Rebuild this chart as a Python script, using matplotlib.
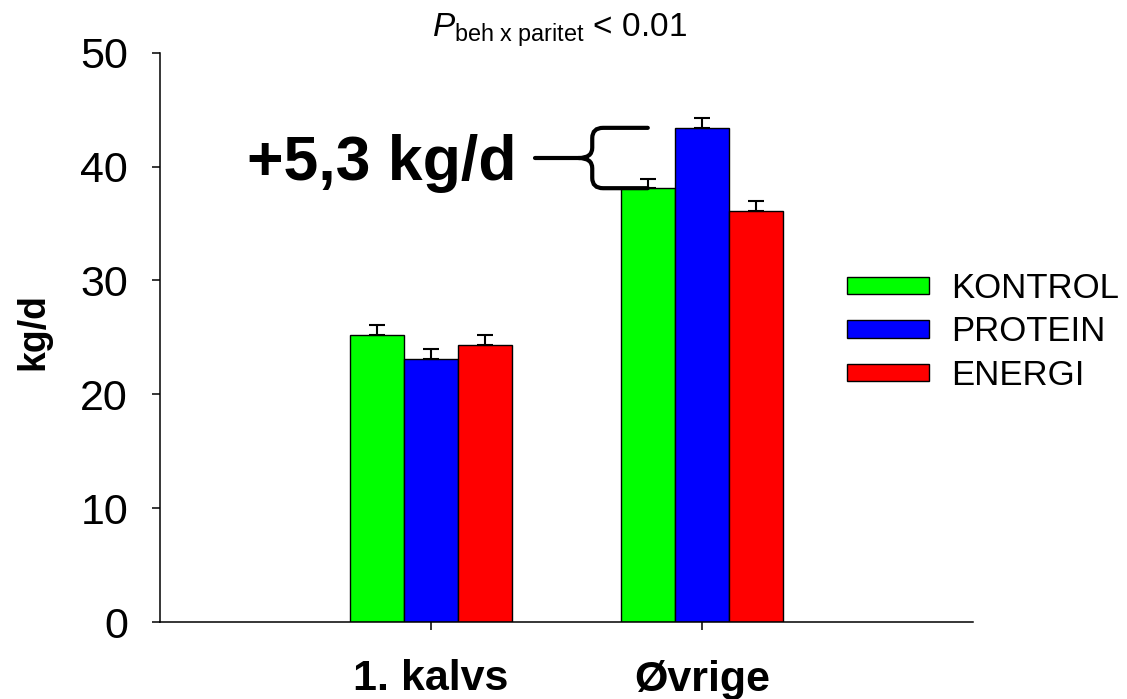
import matplotlib
matplotlib.use("Agg")
import matplotlib.pyplot as plt
import numpy as np
from matplotlib.path import Path
from matplotlib.patches import PathPatch

# --- data -----------------------------------------------------------------
groups = ["1. kalvs", "Øvrige"]
treatments = ["KONTROL", "PROTEIN", "ENERGI"]
kontrol = [25.2, 38.1]
protein = [23.1, 43.4]
energi = [24.3, 36.1]
kontrol_se = [0.9, 0.85]
protein_se = [0.9, 0.9]
energi_se = [0.9, 0.9]
colors = ["#00FF00", "#0000FF", "#FF0000"]
y_ticks = [0, 10, 20, 30, 40, 50]
diff_label = "+5,3 kg/d"
title_text = r"$\mathit{P}_{\mathrm{beh\ x\ paritet}}$ < 0.01"

plt.rcParams["font.family"] = ["Liberation Sans", "DejaVu Sans"]
plt.rcParams["mathtext.fontset"] = "custom"
plt.rcParams["mathtext.rm"] = "Liberation Sans"
plt.rcParams["mathtext.it"] = "Liberation Sans:italic"

W, H = 1127, 699
fig = plt.figure(figsize=(W / 100, H / 100), dpi=100)
ax = fig.add_axes([160 / W, 1 - 622 / H, 813 / W, 569.3 / H])

x = np.arange(len(groups))
width = 0.2
series = [kontrol, protein, energi]
errors = [kontrol_se, protein_se, energi_se]
for i, (vals, errs, col, name) in enumerate(zip(series, errors, colors, treatments)):
    xpos = x + (i - 1) * width
    ax.bar(xpos, vals, width=width, color=col, edgecolor="black",
           linewidth=1.0, label=name, zorder=2)
    ax.errorbar(xpos, vals, yerr=[np.zeros(len(vals)), errs], fmt="none",
                ecolor="black", elinewidth=1.5, capsize=5.8, capthick=1.5,
                zorder=3)

ax.set_xlim(-1.0, 2.0)
ax.set_ylim(0, 50)
ax.set_yticks(y_ticks)
ax.set_xticks(x)
ax.set_xticklabels(groups, fontsize=31, fontweight="bold")
ax.tick_params(axis="y", labelsize=31, length=6, width=1.1, pad=17, direction="out")
ax.tick_params(axis="x", length=6, width=1.1, pad=21, direction="out")
for s in ["top", "right"]:
    ax.spines[s].set_visible(False)
for s in ["left", "bottom"]:
    ax.spines[s].set_linewidth(1.1)

ax.set_ylabel("kg/d", fontsize=27, fontweight="bold")
ax.yaxis.set_label_coords(-0.133, 0.511)

# legend to the right of the bars
ax.legend(loc="upper left", bbox_to_anchor=(847 / W, 1 - 272 / H),
          bbox_transform=fig.transFigure, frameon=False, fontsize=25,
          handlelength=2.36, handleheight=0.38, handletextpad=0.63,
          labelspacing=0.30, borderpad=0, borderaxespad=0)

# title with subscript
fig.text(559.5 / W, 1 - 36.7 / H, title_text, fontsize=24, ha="center",
         va="baseline")

# curly brace marking the PROTEIN vs KONTROL difference in the second group
y_top = protein[1]
y_bot = kontrol[1]
y_mid = (y_top + y_bot) / 2
x_arm = x[1] - width
x_v = 0.595
x_tip = 0.545
x_line = 0.384
rx, ry = 0.04, 0.9
verts = [
    (x_arm, y_top), (x_v + rx, y_top),
    (x_v, y_top), (x_v, y_top - ry),
    (x_v, y_mid + ry),
    (x_v, y_mid), (x_tip, y_mid),
    (x_v, y_mid), (x_v, y_mid - ry),
    (x_v, y_bot + ry),
    (x_v, y_bot), (x_v + rx, y_bot),
    (x_arm, y_bot),
]
codes = [Path.MOVETO, Path.LINETO,
         Path.CURVE3, Path.CURVE3,
         Path.LINETO,
         Path.CURVE3, Path.CURVE3,
         Path.CURVE3, Path.CURVE3,
         Path.LINETO,
         Path.CURVE3, Path.CURVE3,
         Path.LINETO]
ax.add_patch(PathPatch(Path(verts, codes), facecolor="none", edgecolor="black",
                       linewidth=3, capstyle="round", zorder=4, clip_on=False))
ax.plot([x_line, x_tip], [y_mid, y_mid], color="black", linewidth=3,
        solid_capstyle="round", zorder=4, clip_on=False)
ax.annotate(diff_label, xy=(x_line, y_mid), xytext=(-13.7, -15.6),
            textcoords="offset points", ha="right", va="baseline",
            fontsize=45, fontweight="bold")

fig.savefig("out.png", dpi=100)
